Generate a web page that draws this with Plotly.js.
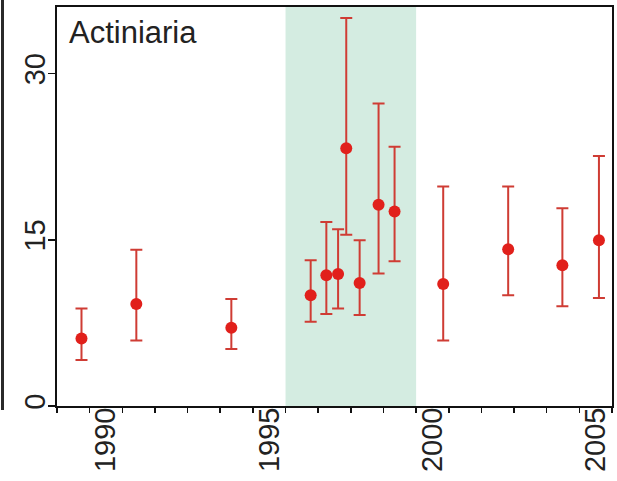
<!DOCTYPE html>
<html>
<head>
<meta charset="utf-8">
<script src="https://cdn.plot.ly/plotly-3.0.1.min.js"></script>
<style>html,body{margin:0;padding:0;background:#fff;}#chart{width:617px;height:481px;}</style>
</head>
<body>
<div id="chart"></div>
<script>
// Data
const panelLabel = "Actiniaria";
const years = [1989.25, 1990.93, 1993.84, 1996.27, 1996.75, 1997.11, 1997.36, 1997.77, 1998.35, 1998.84, 2000.33, 2002.32, 2003.98, 2005.1];
const means = [6.1, 9.2, 7.05, 10.0, 11.8, 11.9, 23.25, 11.1, 18.15, 17.55, 11.0, 14.15, 12.7, 14.95];
const upper = [8.8, 14.1, 9.65, 13.15, 16.6, 15.95, 35.0, 14.95, 27.3, 23.4, 19.8, 19.8, 17.85, 22.55];
const lower = [4.15, 5.9, 5.15, 7.6, 8.3, 8.8, 15.45, 8.2, 11.95, 13.05, 5.9, 10.0, 9.0, 9.75];
const yearLabels = [1990, 1995, 2000, 2005];
const yearTicks = [1988.5, 1989.5, 1990.5, 1991.5, 1992.5, 1993.5, 1994.5, 1995.5, 1996.5, 1997.5, 1998.5, 1999.5, 2000.5, 2001.5, 2002.5, 2003.5, 2004.5, 2005.5];
const yTicks = [0, 15, 30];
const shadedPeriod = [1995.5, 1999.5];
const xRange = [1988.5, 2005.5];
const yRange = [0, 36];

const errPlus = means.map((m, i) => upper[i] - m);
const errMinus = means.map((m, i) => m - lower[i]);

const FONT = "Liberation Sans, Arial, Helvetica, sans-serif";

const trace = {
  x: years, y: means, type: 'scatter', mode: 'markers',
  marker: {color: '#e1201b', size: 12},
  error_y: {type: 'data', symmetric: false, array: errPlus, arrayminus: errMinus,
            color: '#cf3c34', thickness: 2, width: 6},
  showlegend: false, hoverinfo: 'skip'
};
const tickTrace = {x: xRange, y: [0, 0], xaxis: 'x2', yaxis: 'y', mode: 'none', showlegend: false, hoverinfo: 'skip'};

const layout = {
  width: 617, height: 481,
  margin: {l: 57, r: 5, t: 7, b: 75},
  paper_bgcolor: '#ffffff', plot_bgcolor: '#ffffff',
  font: {family: FONT, color: '#222'},
  xaxis: {
    range: xRange, tickmode: 'array', tickvals: yearLabels, ticktext: yearLabels.map(String),
    ticks: '', tickangle: -90, tickfont: {size: 29, family: FONT, color: '#222'},
    ticklabelstandoff: -12,
    showgrid: false, zeroline: false, showline: true, mirror: true, linecolor: '#111', linewidth: 2
  },
  xaxis2: {
    range: xRange, overlaying: 'x', anchor: 'y', side: 'bottom',
    tickmode: 'array', tickvals: yearTicks, showticklabels: false,
    ticks: 'outside', ticklen: 6, tickwidth: 1.5, tickcolor: '#111',
    showgrid: false, zeroline: false, showline: false
  },
  yaxis: {
    range: yRange, tickmode: 'array', tickvals: yTicks, ticktext: yTicks.map(String),
    ticks: 'outside', ticklen: 7, tickwidth: 1.5, tickcolor: '#111', tickangle: -90,
    tickfont: {size: 29, family: FONT, color: '#222'},
    ticklabelstandoff: -9,
    showgrid: false, zeroline: false, showline: true, mirror: true, linecolor: '#111', linewidth: 2
  },
  shapes: [
    {type: 'rect', xref: 'x', yref: 'paper', x0: shadedPeriod[0], x1: shadedPeriod[1], y0: 0, y1: 1,
     fillcolor: '#d4ece1', line: {width: 0}, layer: 'below'},
    {type: 'line', xref: 'paper', yref: 'paper', x0: -0.0982, x1: -0.0982, y0: -0.01, y1: 1.02,
     line: {color: '#2a2a2a', width: 3}}
  ],
  annotations: [
    {text: panelLabel, xref: 'paper', yref: 'paper', x: 0.018, y: 0.985, xanchor: 'left', yanchor: 'top',
     showarrow: false, font: {size: 31, family: FONT, color: '#222'}}
  ]
};

Plotly.newPlot('chart', [trace, tickTrace], layout, {staticPlot: true, displayModeBar: false});
</script>
</body>
</html>
